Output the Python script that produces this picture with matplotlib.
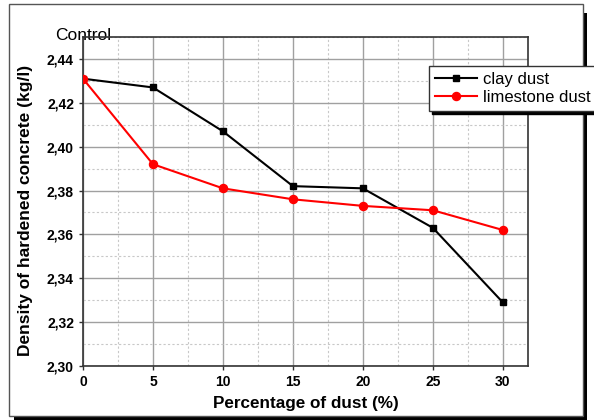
import matplotlib.pyplot as plt
from matplotlib.patches import Rectangle
from matplotlib.ticker import MultipleLocator, FuncFormatter

plt.rcParams['font.family'] = ['Liberation Sans', 'DejaVu Sans']

# Data
dust_pct = [0, 5, 10, 15, 20, 25, 30]
clay_dust = [2.431, 2.427, 2.407, 2.382, 2.381, 2.363, 2.329]
limestone_dust = [2.431, 2.392, 2.381, 2.376, 2.373, 2.371, 2.362]

fig = plt.figure(figsize=(5.94, 4.2), dpi=100)

# outer frame with drop shadow
fig.patches.append(Rectangle((0.024, 0.0), 0.965, 0.97, transform=fig.transFigure,
                             facecolor='black', edgecolor='none', zorder=0))
fig.patches.append(Rectangle((0.0152, 0.0095), 0.9663, 0.981, transform=fig.transFigure,
                             facecolor='white', edgecolor='#555555', lw=1.0, zorder=1))

ax = fig.add_axes([0.1397, 0.1286, 0.8889 - 0.1397, 0.9119 - 0.1286])
ax.set_zorder(2)

ax.plot(dust_pct, clay_dust, color='black', lw=1.5, marker='s', ms=5,
        label='clay dust', zorder=3)
ax.plot(dust_pct, limestone_dust, color='red', lw=1.5, marker='o', ms=5.8,
        label='limestone dust', zorder=4)

ax.set_xlim(0, 31.8)
ax.set_ylim(2.30, 2.45)
ax.xaxis.set_major_locator(MultipleLocator(5))
ax.xaxis.set_minor_locator(MultipleLocator(2.5))
ax.yaxis.set_major_locator(MultipleLocator(0.02))
ax.yaxis.set_minor_locator(MultipleLocator(0.01))
ax.yaxis.set_major_formatter(FuncFormatter(lambda v, p: f'{v:.2f}'.replace('.', ',')))

ax.grid(True, which='major', color='#a0a0a0', lw=1.0, ls='-')
ax.grid(True, which='minor', color='#c8c8c8', lw=0.8, ls=(0, (2, 2)))
ax.set_axisbelow(True)

for sp in ax.spines.values():
    sp.set_color('#333333')
    sp.set_linewidth(1.2)

ax.tick_params(which='major', length=3, width=1, colors='#333333', labelcolor='black')
ax.tick_params(which='minor', length=0)
for lbl in ax.get_xticklabels() + ax.get_yticklabels():
    lbl.set_fontweight('bold')
    lbl.set_fontsize(10)

ax.set_xlabel('Percentage of dust (%)', fontsize=12.3, fontweight='bold', labelpad=5)
ax.set_ylabel('Density of hardened concrete (kg/l)', fontsize=12.5, fontweight='bold')
ax.yaxis.set_label_coords(-0.112, 0.474)

ax.text(0, 2.4505, 'Control', fontsize=12.5, ha='center', va='center', clip_on=False,
        zorder=1)

leg = fig.legend(loc='upper left', bbox_to_anchor=(429 / 594, 1 - 66 / 420),
                 fontsize=12, frameon=True, fancybox=False, handlelength=2.5,
                 borderpad=0.35, labelspacing=0.2, handletextpad=0.4,
                 borderaxespad=0, shadow={'color': 'black', 'alpha': 1})
leg.get_frame().set_edgecolor('#333333')
leg.get_frame().set_linewidth(1.0)
leg.set_zorder(5)

fig.savefig('out.png', dpi=100)
